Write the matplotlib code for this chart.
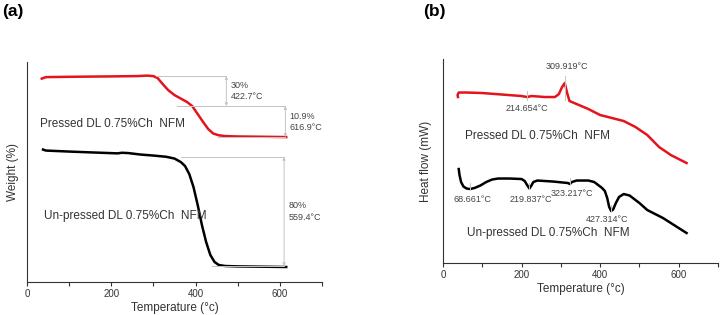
import matplotlib.pyplot as plt

plt.rcParams['font.family'] = ['Liberation Sans', 'DejaVu Sans']

# ---------------- DATA (a) TGA ----------------
# y is in arbitrary display units (no y ticks on the original)
tga_pressed_t = [35, 45, 100, 200, 260, 285, 300, 310, 320, 335, 350, 365, 380, 392, 405, 418, 430, 442, 455, 470, 500, 560, 615]
tga_pressed_w = [203.5, 205, 205.3, 205.7, 206, 206.5, 206, 204, 199, 192, 187, 183.5, 180, 176, 168, 160, 153, 148.5, 146.8, 146, 145.6, 145.3, 145]
tga_unpressed_t = [38, 45, 100, 150, 215, 225, 240, 270, 300, 330, 350, 365, 375, 385, 395, 405, 415, 425, 435, 445, 455, 470, 500, 560, 615]
tga_unpressed_w = [132.5, 131.5, 130.5, 129.7, 128.7, 129.3, 129, 127.5, 126.5, 125.3, 123.5, 120, 116, 108, 95, 77, 57, 40, 27, 20, 17, 16, 15.6, 15.3, 15]

# step markers: (x_start, x_end, y_top, y_bottom, x_arrow, label)
tga_steps = [
    (305, 473, 206, 176, 473, "30%\n422.7°C"),
    (385, 613, 176, 145, 613, "10.9%\n616.9°C"),
    (365, 610, 125, 16, 610, "80%\n559.4°C"),
]

# ---------------- DATA (b) DSC ----------------
dsc_pressed_t = [38, 37, 40, 60, 100, 150, 200, 214, 225, 260, 285, 295, 303, 310, 316, 322, 340, 370, 400, 430, 460, 490, 520, 550, 580, 620]
dsc_pressed_h = [166, 168, 170.5, 170.5, 170, 168.5, 167, 166, 167, 166, 166, 169, 176, 180, 170, 162, 159, 154, 148, 145, 142, 136, 128, 116, 108, 100]
dsc_unpressed_t = [40, 42, 46, 52, 60, 69, 80, 95, 110, 125, 140, 170, 200, 208, 214, 220, 225, 230, 240, 280, 318, 323, 328, 340, 370, 385, 395, 405,
                   412, 418, 423, 428, 433, 440, 448, 460, 475, 500, 520, 560, 620]
dsc_unpressed_h = [94, 88, 81, 76.5, 74.5, 74, 75, 77.5, 81, 83.5, 84.5, 84.5, 84, 82, 78, 74.5, 77.5, 81, 82.5, 81.5, 80, 79, 81, 82.5, 82.5, 81, 78, 75,
                   72, 65, 56, 52, 53.5, 60, 66, 69, 67.5, 60, 53, 45, 30]
dsc_peaks_t = [214.654, 309.919, 68.661, 219.837, 323.217, 427.314]
dsc_peaks_h = [166, 180, 74, 74, 79, 52]
dsc_peak_labels = ["214.654°C", "309.919°C", "68.661°C", "219.837°C", "323.217°C", "427.314°C"]

RED = '#e3141c'
GREY = '#c4c4c4'

fig = plt.figure(figsize=(7.24, 3.15), dpi=100)
ax1 = fig.add_axes([0.0373, 0.1048, 0.4075, 0.698])
ax2 = fig.add_axes([0.6119, 0.165, 0.3798, 0.6476])

for ax in (ax1, ax2):
    ax.set_xlim(0, 700)
    ax.spines['top'].set_visible(False)
    ax.spines['right'].set_visible(False)
    ax.spines['left'].set_color('#333333')
    ax.spines['bottom'].set_color('#333333')
    ax.set_yticks([])
    ax.set_xticks([0, 200, 400, 600])
    ax.set_xticks([100, 300, 500, 700], minor=True)
    ax.tick_params(axis='x', which='both', direction='out', length=3, width=0.8,
                   labelsize=7, colors='#333333', pad=2)
    ax.set_xlabel('Temperature (°c)', fontsize=8.5, color='#333333', labelpad=2)

# ---------------- (a) ----------------
ax1.set_ylim(0, 220)
ax1.plot(tga_pressed_t, tga_pressed_w, color=RED, lw=1.8)
ax1.plot(tga_unpressed_t, tga_unpressed_w, color='black', lw=1.8)
for x0, x1, yt, yb, xa, lab in tga_steps:
    ax1.plot([x0, x1], [yt, yt], color=GREY, lw=0.7)
    ax1.plot([x0 + (x1 - x0) * 0.3, x1], [yb, yb], color=GREY, lw=0.7)
    ax1.annotate('', xy=(xa, yb), xytext=(xa, yt),
                 arrowprops=dict(arrowstyle='<|-|>', color=GREY, lw=0.7,
                                 mutation_scale=4, shrinkA=0, shrinkB=0))
    ax1.text(xa + 10, (yt + yb) / 2, lab, fontsize=6.5, color='#444444',
             va='center', ha='left', linespacing=1.3)
ax1.text(30, 158, 'Pressed DL 0.75%Ch  NFM', fontsize=8.5, color='#333333', va='center')
ax1.text(40, 66, 'Un-pressed DL 0.75%Ch  NFM', fontsize=8.5, color='#333333', va='center')
ax1.set_ylabel('Weight (%)', fontsize=8.5, color='#333333', labelpad=6)
fig.text(0.003, 0.962, '(a)', fontsize=12.5, fontweight='bold', va='center')

# ---------------- (b) ----------------
ax2.set_ylim(0, 204)
ax2.plot(dsc_pressed_t, dsc_pressed_h, color=RED, lw=1.8)
ax2.plot(dsc_unpressed_t, dsc_unpressed_h, color='black', lw=1.8)
# label offsets (dx, dy) relative to each peak, in data units
label_offsets = {
    "214.654°C": (0, -7, 'top'),
    "309.919°C": (5, 12, 'bottom'),
    "68.661°C": (7, -6, 'top'),
    "219.837°C": (3, -6, 'top'),
    "323.217°C": (6, -5, 'top'),
    "427.314°C": (-9, -4, 'top'),
}
for t, h, lab in zip(dsc_peaks_t, dsc_peaks_h, dsc_peak_labels):
    if lab == "309.919°C":
        ax2.plot([t, t], [h - 17, h + 7], color=GREY, lw=0.7)
    elif lab == "214.654°C":
        ax2.plot([t, t], [h - 3, h + 6], color=GREY, lw=0.7)
    else:
        ax2.plot([t, t], [h, h + 6], color=GREY, lw=0.7)
    dx, dy, va = label_offsets[lab]
    ax2.text(t + dx, h + dy, lab, fontsize=6.5, color='#444444', ha='center', va=va)
ax2.text(55, 127, 'Pressed DL 0.75%Ch  NFM', fontsize=8.5, color='#333333', va='center')
ax2.text(60, 30, 'Un-pressed DL 0.75%Ch  NFM', fontsize=8.5, color='#333333', va='center')
ax2.set_ylabel('Heat flow (mW)', fontsize=8.5, color='#333333', labelpad=8)
fig.text(0.584, 0.962, '(b)', fontsize=12.5, fontweight='bold', va='center')

fig.savefig('out.png', dpi=100)
